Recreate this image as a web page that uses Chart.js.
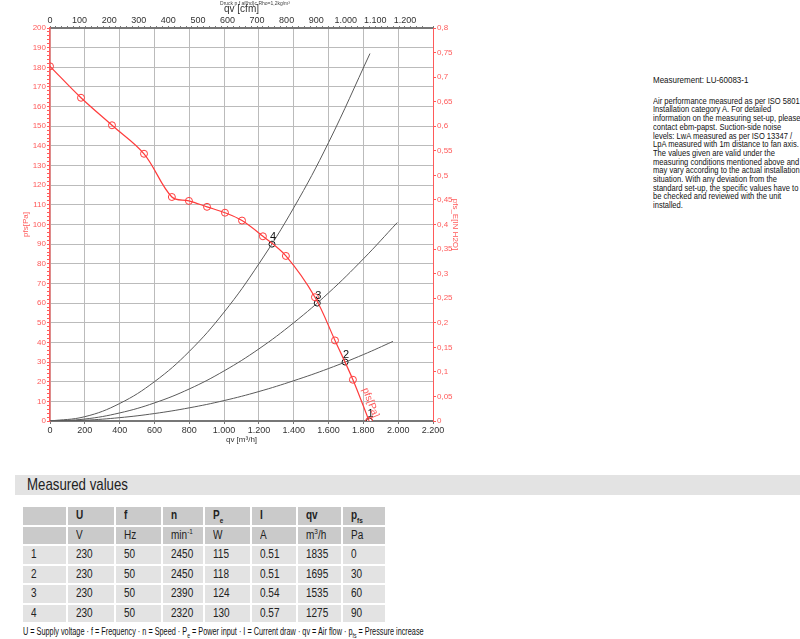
<!DOCTYPE html>
<html>
<head>
<meta charset="utf-8">
<script src="https://cdn.jsdelivr.net/npm/chart.js@4/dist/chart.umd.min.js"></script>
<style>
  body { margin: 0; background: #fff; font-family: "Liberation Sans", Arial, sans-serif; }
  #wrap { position: relative; width: 800px; height: 639px; overflow: hidden; }
  #chart { position: absolute; left: 0; top: 0; }
  .nar { display: inline-block; transform-origin: 0 50%; white-space: nowrap; }
  #smalltitle { position: absolute; left: 190px; top: 0; width: 130px; text-align: center; font-size: 5px; color: #444; }
  #note { position: absolute; left: 653px; top: 76px; font-size: 9px; line-height: 8.7px; color: #111; transform: scaleX(0.84); transform-origin: 0 0; white-space: nowrap; }
  #note p { margin: 0 0 12px 0; font-size: 9.5px; }
  #banner { position: absolute; left: 15px; top: 475px; width: 785px; height: 20px; background: #e3e3e3; font-size: 17px; line-height: 20px; color: #222; }
  #banner .nar { margin-left: 12px; transform: scaleX(0.78); }
  #tbl { position: absolute; left: 21px; top: 505px; border-collapse: separate; border-spacing: 2px; font-size: 12.5px; color: #222; }
  #tbl td { height: 17.5px; line-height: 17.5px; padding: 0 0 0 8px; background: #e3e3e3; text-align: left; box-sizing: border-box; }
  #tbl td .nar { transform: scaleX(0.8); }
  #tbl sub, #tbl sup { line-height: 0; font-size: 8px; }
  #tbl tr.hd td { background: #cacaca; }
  #tbl tr.hd1 td { font-weight: bold; }
  #foot { position: absolute; left: 23px; top: 626px; font-size: 10px; color: #111; white-space: nowrap; transform: scaleX(0.73); transform-origin: 0 0; }
  #foot sub { font-size: 7px; line-height: 0; }
</style>
</head>
<body>
<div id="wrap">
  <canvas id="chart" width="480" height="445"></canvas>
  <div id="smalltitle">Druck p f af(hd)c Rho=1,2kg/m³</div>
  <div id="note">
    <p>Measurement: LU-60083-1</p>
    Air performance measured as per ISO 5801<br>
    Installation category A. For detailed<br>
    information on the measuring set-up, please<br>
    contact ebm-papst. Suction-side noise<br>
    levels: LwA measured as per ISO 13347 /<br>
    LpA measured with 1m distance to fan axis.<br>
    The values given are valid under the<br>
    measuring conditions mentioned above and<br>
    may vary according to the actual installation<br>
    situation. With any deviation from the<br>
    standard set-up, the specific values have to<br>
    be checked and reviewed with the unit<br>
    installed.
  </div>
  <div id="banner"><span class="nar">Measured values</span></div>
  <table id="tbl"></table>
  <div id="foot">U = Supply voltage · f = Frequency · n = Speed · P<sub>e</sub> = Power input · I = Current draw · qv = Air flow · p<sub>fs</sub> = Pressure increase</div>
</div>
<script>
// fan curve
var curveQv  = [0, 178, 356, 540, 700, 798, 902, 1005, 1103, 1223, 1355, 1522, 1637, 1740, 1833];
var curvePfs = [180.5, 164.5, 150.5, 136, 114, 112, 109, 106, 102, 94, 84, 63, 41, 21, 0];

// system curves (gray)
var sys4Qv  = [0, 200, 400, 600, 800, 1000, 1200, 1400, 1600, 1838];
var sys4Pfs = [0, 2.2, 8.9, 20, 35.4, 55.4, 80, 108.5, 141.7, 187];
var sys3Qv  = [0, 200, 400, 600, 800, 1000, 1200, 1400, 1600, 1800, 1995];
var sys3Pfs = [0, 1, 4.1, 9.2, 16.3, 25.5, 36.7, 50, 65.2, 82.5, 101];
var sys2Qv  = [0, 200, 400, 600, 800, 1000, 1200, 1400, 1600, 1800, 1970];
var sys2Pfs = [0, 0.4, 1.7, 3.8, 6.7, 10.4, 15, 20.5, 26.7, 33.8, 40.5];

// operating points
var opLabels = ['1', '2', '3', '4'];
var opQv  = [1835, 1695, 1535, 1275];
var opPfs = [0, 30, 60, 90];

// table
var colHead = ['', 'U', 'f', 'n', 'P<sub>e</sub>', 'I', 'qv', 'p<sub>fs</sub>'];
var colUnit = ['', 'V', 'Hz', 'min<sup>-1</sup>', 'W', 'A', 'm<sup>3</sup>/h', 'Pa'];
var colU = [230, 230, 230, 230];
var colF = [50, 50, 50, 50];
var colN = [2450, 2450, 2390, 2320];
var colPe = [115, 118, 124, 130];
var colI = ['0.51', '0.51', '0.54', '0.57'];
var colWidths = [43, 46, 45, 40, 45, 44, 43, 42];

var red = '#ff3b3b';
var redTxt = '#ff5a5a';

function pts(xs, ys) {
  var out = [];
  for (var i = 0; i < xs.length; i++) out.push({x: xs[i], y: ys[i]});
  return out;
}
function thousands(v) {
  return String(v).replace(/\B(?=(\d{3})+(?!\d))/g, '.');
}

// build table
var tbl = document.getElementById('tbl');
function addRow(cells, cls) {
  var tr = document.createElement('tr');
  if (cls) tr.className = cls;
  for (var i = 0; i < cells.length; i++) {
    var td = document.createElement('td');
    td.style.width = colWidths[i] + 'px';
    td.innerHTML = '<span class="nar">' + cells[i] + '</span>';
    tr.appendChild(td);
  }
  tbl.appendChild(tr);
}
addRow(colHead, 'hd hd1');
addRow(colUnit, 'hd');
for (var r = 0; r < opLabels.length; r++) {
  addRow([opLabels[r], colU[r], colF[r], colN[r], colPe[r], colI[r], opQv[r], opPfs[r]]);
}

var labelPlugin = {
  id: 'labels',
  afterDatasetsDraw: function(chart) {
    var ctx = chart.ctx;
    var xs = chart.scales.x, ys = chart.scales.y;
    ctx.save();
    ctx.fillStyle = '#111';
    ctx.font = '11px "Liberation Sans"';
    ctx.textAlign = 'center';
    ctx.textBaseline = 'bottom';
    for (var i = 0; i < opLabels.length; i++) {
      ctx.fillText(opLabels[i], xs.getPixelForValue(opQv[i]) + 1, ys.getPixelForValue(opPfs[i]) - 2);
    }
    // curve label along the last segment
    var n = curveQv.length;
    var x1 = xs.getPixelForValue(curveQv[n - 2]), y1 = ys.getPixelForValue(curvePfs[n - 2]);
    var x2 = xs.getPixelForValue(curveQv[n - 1]), y2 = ys.getPixelForValue(curvePfs[n - 1]);
    var ang = Math.atan2(y2 - y1, x2 - x1);
    ctx.translate(x2, y2);
    ctx.rotate(ang);
    ctx.fillStyle = redTxt;
    ctx.font = '10px "Liberation Sans"';
    ctx.textAlign = 'right';
    ctx.textBaseline = 'bottom';
    ctx.fillText('pfs[Pa]', -1, -3);
    ctx.restore();
  }
};

var font9 = { size: 9, family: 'Liberation Sans' };
var font8 = { size: 8, family: 'Liberation Sans' };

new Chart(document.getElementById('chart'), {
  type: 'scatter',
  data: {
    datasets: [
      {
        label: 'pfs',
        data: pts(curveQv, curvePfs),
        showLine: true,
        borderColor: red,
        borderWidth: 1.2,
        tension: 0.35,
        pointStyle: 'circle',
        pointRadius: 3.5,
        pointBorderColor: red,
        pointBorderWidth: 1,
        pointBackgroundColor: 'rgba(0,0,0,0)'
      },
      { label: 's4', data: pts(sys4Qv, sys4Pfs), showLine: true, borderColor: '#5a5a5a', borderWidth: 1, pointRadius: 0, tension: 0.4 },
      { label: 's3', data: pts(sys3Qv, sys3Pfs), showLine: true, borderColor: '#5a5a5a', borderWidth: 1, pointRadius: 0, tension: 0.4 },
      { label: 's2', data: pts(sys2Qv, sys2Pfs), showLine: true, borderColor: '#5a5a5a', borderWidth: 1, pointRadius: 0, tension: 0.4 },
      {
        label: 'op',
        data: pts(opQv, opPfs),
        showLine: false,
        pointRadius: 3,
        pointBorderColor: '#111',
        pointBorderWidth: 1,
        pointBackgroundColor: '#fff'
      }
    ]
  },
  options: {
    responsive: false,
    animation: false,
    layout: { padding: 0 },
    plugins: { legend: { display: false }, tooltip: { enabled: false } },
    scales: {
      x: {
        type: 'linear', position: 'bottom', min: 0, max: 2200,
        ticks: { stepSize: 200, color: '#333', font: font9, padding: 1, maxRotation: 0, autoSkip: false,
          callback: function(v) { return thousands(v); } },
        grid: { color: '#bbb', borderDash: [1, 5], tickColor: '#777', tickLength: 3 },
        border: { color: '#777', width: 2 },
        title: { display: true, text: 'qv [m³/h]', color: '#333', font: font8, padding: 0 },
        afterFit: function(s) { s.height = 24; }
      },
      xTop: {
        type: 'linear', position: 'top', min: 0, max: 2200 / 1.699,
        ticks: { stepSize: 20, color: '#333', font: font9, padding: 0, maxRotation: 0, autoSkip: false,
          callback: function(v) { return Math.round(v) % 100 === 0 ? thousands(Math.round(v)) : ''; } },
        grid: { drawOnChartArea: false, tickColor: '#777', tickLength: 2 },
        border: { color: '#777', width: 2 },
        title: { display: true, text: 'qv [cfm]', color: '#333', font: { size: 10, family: 'Liberation Sans' }, padding: { top: 3, bottom: 0 } },
        afterFit: function(s) { s.height = 28; }
      },
      y: {
        type: 'linear', position: 'left', min: 0, max: 200,
        ticks: { stepSize: 2, color: redTxt, font: font8, padding: 1, autoSkip: false,
          callback: function(v) { return Math.round(v) % 10 === 0 ? v : ''; } },
        grid: {
          color: function(c) { return c.tick && Math.round(c.tick.value) % 10 === 0 && c.tick.value > 0 && c.tick.value < 200 ? '#bbb' : 'rgba(0,0,0,0)'; },
          borderDash: [1, 5], tickColor: redTxt, tickLength: 3
        },
        border: { color: redTxt, width: 1.5 },
        title: { display: true, text: 'pfs[Pa]', color: redTxt, font: font8, padding: { top: 21, bottom: 0 } },
        afterFit: function(s) { s.width = 50; }
      },
      yRight: {
        type: 'linear', position: 'right', min: 0, max: 0.8,
        ticks: { stepSize: 0.05, color: redTxt, font: font8, padding: 1, autoSkip: false,
          callback: function(v) { return String(Math.round(v * 100) / 100).replace('.', ','); } },
        grid: { drawOnChartArea: false, tickColor: redTxt, tickLength: 3 },
        border: { color: redTxt, width: 1 },
        title: { display: true, text: 'pfs_E[IN H2O]', color: redTxt, font: font8, padding: { top: 20, bottom: 0 } },
        afterFit: function(s) { s.width = 47; }
      }
    }
  },
  plugins: [labelPlugin]
});
</script>
</body>
</html>
